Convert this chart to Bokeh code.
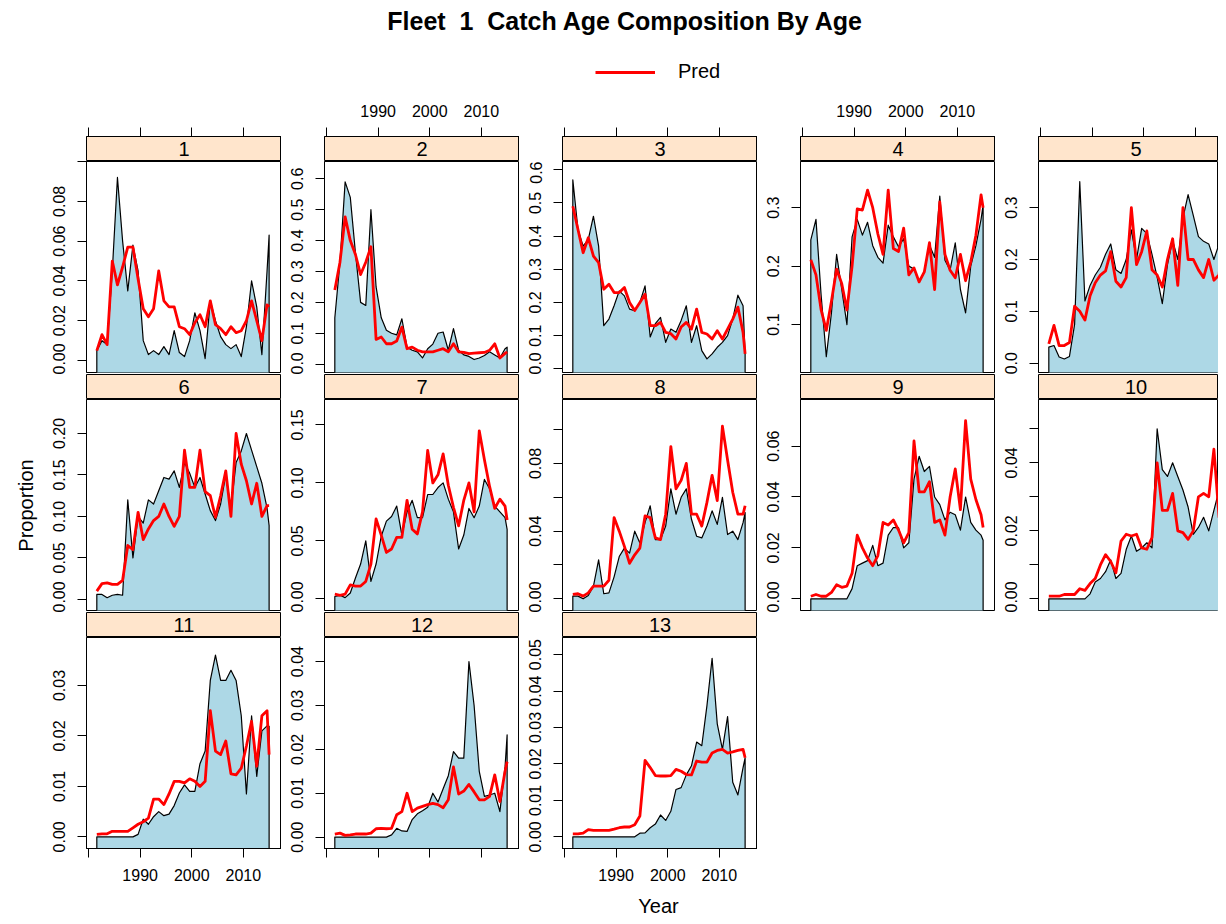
import math
from bokeh.plotting import figure
from bokeh.models import Range1d, LinearAxis, FixedTicker, Label, Legend, LegendItem, Spacer
from bokeh.layouts import column, row
from bokeh.embed import file_html
from bokeh.resources import INLINE

FONT = "Liberation Sans"

# ---------------- data ----------------
YEARS = [round(1981.6 + i, 1) for i in range(34)] + [2015.0]
AGES = list(range(1, 14))

OBS_1 = [0.005, 0.010, 0.008, 0.045, 0.092, 0.060, 0.035, 0.058, 0.045, 0.010, 0.003, 0.005, 0.003, 0.007, 0.003,
         0.015, 0.004, 0.002, 0.010, 0.024, 0.015, 0.001, 0.030, 0.020, 0.012, 0.008, 0.006, 0.008, 0.002, 0.017,
         0.040, 0.027, 0.003, 0.045, 0.063]
PRED_1 = [0.005, 0.013, 0.008, 0.050, 0.038, 0.047, 0.057, 0.057, 0.041, 0.026, 0.022, 0.026, 0.045, 0.030, 0.027,
          0.027, 0.017, 0.016, 0.013, 0.019, 0.023, 0.017, 0.030, 0.018, 0.016, 0.013, 0.017, 0.014, 0.015, 0.020,
          0.030, 0.020, 0.010, 0.028, 0.027]
OBS_2 = [0.15, 0.33, 0.59, 0.54, 0.36, 0.20, 0.19, 0.50, 0.25, 0.15, 0.11, 0.10, 0.095, 0.147, 0.055,
         0.045, 0.04, 0.02, 0.05, 0.065, 0.10, 0.104, 0.045, 0.115, 0.045, 0.03, 0.025, 0.015, 0.02, 0.028,
         0.04, 0.03, 0.02, 0.05, 0.055]
PRED_2 = [0.24, 0.33, 0.477, 0.40, 0.355, 0.29, 0.33, 0.38, 0.08, 0.088, 0.066, 0.066, 0.075, 0.12, 0.05,
          0.055, 0.045, 0.04, 0.04, 0.04, 0.045, 0.05, 0.04, 0.066, 0.04, 0.038, 0.034, 0.036, 0.037, 0.038,
          0.045, 0.066, 0.02, 0.035, 0.04]
OBS_3 = [0.57, 0.42, 0.37, 0.39, 0.46, 0.37, 0.13, 0.15, 0.19, 0.235, 0.22, 0.18, 0.175, 0.2, 0.25,
         0.096, 0.136, 0.155, 0.08, 0.12, 0.11, 0.146, 0.19, 0.08, 0.13, 0.055, 0.03, 0.045, 0.065, 0.08,
         0.1, 0.15, 0.222, 0.19, 0.045]
PRED_3 = [0.49, 0.42, 0.35, 0.395, 0.34, 0.32, 0.24, 0.255, 0.23, 0.23, 0.245, 0.2, 0.176, 0.2, 0.225,
          0.13, 0.13, 0.14, 0.11, 0.106, 0.09, 0.126, 0.14, 0.12, 0.18, 0.11, 0.105, 0.09, 0.115, 0.09,
          0.12, 0.15, 0.186, 0.11, 0.045]
OBS_4 = [0.245, 0.28, 0.15, 0.045, 0.12, 0.22, 0.16, 0.1, 0.25, 0.28, 0.253, 0.275, 0.235, 0.215, 0.205,
         0.27, 0.25, 0.233, 0.247, 0.2, 0.195, 0.173, 0.19, 0.236, 0.215, 0.32, 0.21, 0.193, 0.24, 0.16,
         0.12, 0.2, 0.235, 0.28, 0.305]
PRED_4 = [0.211, 0.185, 0.125, 0.09, 0.14, 0.195, 0.17, 0.125, 0.2, 0.298, 0.296, 0.33, 0.3, 0.255, 0.22,
          0.33, 0.23, 0.225, 0.265, 0.185, 0.197, 0.173, 0.19, 0.24, 0.16, 0.31, 0.22, 0.193, 0.18, 0.22,
          0.175, 0.207, 0.253, 0.322, 0.3]
OBS_5 = [0.031, 0.034, 0.012, 0.008, 0.013, 0.075, 0.35, 0.12, 0.15, 0.17, 0.185, 0.21, 0.23, 0.18, 0.173,
         0.2, 0.257, 0.2, 0.26, 0.25, 0.21, 0.166, 0.115, 0.19, 0.237, 0.2, 0.28, 0.325, 0.285, 0.244,
         0.235, 0.23, 0.2, 0.23, 0.19]
PRED_5 = [0.037, 0.073, 0.034, 0.034, 0.04, 0.11, 0.1, 0.083, 0.13, 0.155, 0.17, 0.178, 0.215, 0.158, 0.147,
          0.165, 0.3, 0.19, 0.215, 0.255, 0.18, 0.17, 0.147, 0.2, 0.24, 0.15, 0.3, 0.2, 0.2, 0.18,
          0.165, 0.2, 0.16, 0.17, 0.215]
OBS_6 = [0.006, 0.006, 0.002, 0.005, 0.006, 0.005, 0.12, 0.05, 0.1, 0.092, 0.12, 0.115, 0.131, 0.147, 0.145,
         0.155, 0.135, 0.165, 0.152, 0.135, 0.147, 0.127, 0.107, 0.095, 0.115, 0.15, 0.11, 0.165, 0.179, 0.2,
         0.18, 0.16, 0.14, 0.11, 0.089]
PRED_6 = [0.01, 0.019, 0.02, 0.018, 0.018, 0.023, 0.065, 0.06, 0.105, 0.072, 0.085, 0.095, 0.1, 0.115, 0.1,
          0.088, 0.1, 0.18, 0.135, 0.135, 0.18, 0.13, 0.125, 0.099, 0.125, 0.155, 0.1, 0.2, 0.163, 0.143,
          0.115, 0.14, 0.1, 0.113, 0.113]
OBS_7 = [0.002, 0.003, 0.001, 0.005, 0.018, 0.03, 0.05, 0.015, 0.03, 0.054, 0.067, 0.071, 0.08, 0.055, 0.075,
         0.085, 0.07, 0.07, 0.09, 0.09, 0.096, 0.1, 0.086, 0.075, 0.043, 0.055, 0.078, 0.07, 0.08, 0.103,
         0.095, 0.08, 0.075, 0.07, 0.06]
PRED_7 = [0.004, 0.003, 0.004, 0.012, 0.011, 0.011, 0.015, 0.03, 0.069, 0.055, 0.04, 0.043, 0.053, 0.053, 0.085,
          0.06, 0.056, 0.075, 0.128, 0.1, 0.107, 0.125, 0.098, 0.079, 0.063, 0.085, 0.1, 0.075, 0.145, 0.12,
          0.097, 0.078, 0.086, 0.08, 0.068]
OBS_8 = [0.0016, 0.0016, 0.0, 0.002, 0.0075, 0.023, 0.003, 0.0035, 0.013, 0.025, 0.03, 0.027, 0.04, 0.033, 0.045,
         0.055, 0.035, 0.035, 0.043, 0.065, 0.05, 0.06, 0.065, 0.047, 0.037, 0.036, 0.043, 0.052, 0.044, 0.06,
         0.038, 0.04, 0.035, 0.045, 0.051]
PRED_8 = [0.0026, 0.003, 0.0016, 0.0035, 0.0075, 0.0075, 0.0075, 0.011, 0.048, 0.04, 0.031, 0.021, 0.026, 0.03,
          0.049, 0.048, 0.036, 0.035, 0.05, 0.09, 0.065, 0.07, 0.08, 0.05, 0.05, 0.043, 0.057, 0.073, 0.058,
          0.102, 0.082, 0.063, 0.05, 0.05, 0.055]
OBS_9 = [0.0, 0.0, 0.0, 0.0, 0.0, 0.0, 0.0, 0.0, 0.004, 0.013, 0.014, 0.015, 0.021, 0.013, 0.014,
         0.025, 0.028, 0.028, 0.02, 0.022, 0.047, 0.056, 0.05, 0.052, 0.04, 0.037, 0.031, 0.034, 0.033, 0.027,
         0.04, 0.03, 0.027, 0.025, 0.023]
PRED_9 = [0.001, 0.0017, 0.001, 0.001, 0.0025, 0.0055, 0.0045, 0.005, 0.01, 0.025, 0.02, 0.016, 0.013, 0.017,
          0.03, 0.029, 0.031, 0.027, 0.022, 0.026, 0.062, 0.042, 0.042, 0.046, 0.03, 0.031, 0.025, 0.04, 0.051,
          0.035, 0.07, 0.047, 0.039, 0.033, 0.028]
OBS_10 = [0.0, 0.0, 0.0, 0.0, 0.0, 0.0, 0.0, 0.0, 0.0015, 0.005, 0.006, 0.008, 0.0115, 0.006, 0.0075,
          0.0145, 0.0185, 0.014, 0.015, 0.0165, 0.015, 0.05, 0.038, 0.036, 0.04, 0.036, 0.032, 0.027, 0.019,
          0.021, 0.024, 0.02, 0.026, 0.032, 0.04]
PRED_10 = [0.0008, 0.0008, 0.0008, 0.0013, 0.0013, 0.0013, 0.003, 0.0025, 0.0045, 0.006, 0.01, 0.013, 0.011,
           0.0077, 0.017, 0.019, 0.0185, 0.019, 0.015, 0.0146, 0.018, 0.04, 0.026, 0.026, 0.031, 0.02, 0.0195,
           0.0175, 0.02, 0.03, 0.031, 0.03, 0.044, 0.024, 0.023]
OBS_11 = [0.0, 0.0, 0.0, 0.0, 0.0, 0.0, 0.0, 0.0, 0.0005, 0.0035, 0.0025, 0.004, 0.005, 0.0042, 0.0045,
          0.0062, 0.0087, 0.0103, 0.009, 0.009, 0.0145, 0.017, 0.031, 0.036, 0.031, 0.031, 0.033, 0.031, 0.024,
          0.0085, 0.024, 0.012, 0.021, 0.022, 0.0219]
PRED_11 = [0.0005, 0.0006, 0.0006, 0.0011, 0.0011, 0.0011, 0.0011, 0.0018, 0.0025, 0.003, 0.0037, 0.0075,
           0.0075, 0.0064, 0.0085, 0.011, 0.011, 0.0107, 0.0115, 0.011, 0.01, 0.011, 0.025, 0.017, 0.0163,
           0.019, 0.0125, 0.0123, 0.0136, 0.018, 0.0229, 0.014, 0.024, 0.025, 0.0163]
OBS_12 = [0.0, 0.0, 0.0, 0.0, 0.0, 0.0, 0.0, 0.0, 0.0, 0.0, 0.0, 0.0005, 0.002, 0.0014, 0.0013,
          0.004, 0.0053, 0.006, 0.0068, 0.01, 0.008, 0.011, 0.014, 0.0195, 0.018, 0.018, 0.04, 0.03, 0.015,
          0.0093, 0.0096, 0.01, 0.0058, 0.016, 0.0233]
PRED_12 = [0.0007, 0.0009, 0.0004, 0.0005, 0.0007, 0.0007, 0.0007, 0.0009, 0.0019, 0.002, 0.0019, 0.002,
           0.0051, 0.0058, 0.01, 0.0058, 0.0066, 0.007, 0.0074, 0.0077, 0.0074, 0.0067, 0.0085, 0.016, 0.0098,
           0.0105, 0.012, 0.0103, 0.0085, 0.0085, 0.0093, 0.0142, 0.0081, 0.015, 0.0172]
OBS_13 = [0.0, 0.0, 0.0, 0.0, 0.0, 0.0, 0.0, 0.0, 0.0, 0.0, 0.0, 0.0, 0.0, 0.001, 0.0011,
          0.0025, 0.0035, 0.006, 0.0045, 0.007, 0.013, 0.0135, 0.017, 0.0195, 0.026, 0.025, 0.036, 0.049, 0.031,
          0.024, 0.033, 0.015, 0.0115, 0.019, 0.0217]
PRED_13 = [0.0008, 0.0008, 0.001, 0.002, 0.0018, 0.0018, 0.0018, 0.0018, 0.0021, 0.0025, 0.0027, 0.0027,
           0.0033, 0.0057, 0.021, 0.019, 0.0168, 0.0167, 0.0167, 0.0168, 0.0185, 0.018, 0.0171, 0.017, 0.0208,
           0.0205, 0.0205, 0.023, 0.0237, 0.024, 0.023, 0.0233, 0.0237, 0.024, 0.0217]

OBS = [OBS_1, OBS_2, OBS_3, OBS_4, OBS_5, OBS_6, OBS_7, OBS_8, OBS_9, OBS_10, OBS_11, OBS_12, OBS_13]
PRED = [PRED_1, PRED_2, PRED_3, PRED_4, PRED_5, PRED_6, PRED_7, PRED_8, PRED_9, PRED_10, PRED_11, PRED_12, PRED_13]

# axis scales (free y scales per panel)
Y_LIMITS = [(-0.006, 0.100), (-0.027, 0.656), (-0.011, 0.625), (0.018, 0.379), (-0.018, 0.389),
            (-0.0134, 0.241), (-0.0101, 0.172), (-0.0069, 0.1178), (-0.0046, 0.0783), (-0.0034, 0.0586),
            (-0.0023, 0.0395), (-0.0026, 0.0455), (-0.0032, 0.0547)]
Y_TICKS = [[0.0, 0.02, 0.04, 0.06, 0.08, 0.10],
           [0.0, 0.1, 0.2, 0.3, 0.4, 0.5, 0.6],
           [0.0, 0.1, 0.2, 0.3, 0.4, 0.5, 0.6],
           [0.1, 0.2, 0.3],
           [0.0, 0.1, 0.2, 0.3],
           [0.0, 0.05, 0.10, 0.15, 0.20],
           [0.0, 0.05, 0.10, 0.15],
           [0.0, 0.02, 0.04, 0.06, 0.08, 0.10],
           [0.0, 0.02, 0.04, 0.06],
           [0.0, 0.01, 0.02, 0.03, 0.04, 0.05],
           [0.0, 0.01, 0.02, 0.03],
           [0.0, 0.01, 0.02, 0.03, 0.04],
           [0.0, 0.01, 0.02, 0.03, 0.04, 0.05]]
Y_LABELS = [["0.00", "0.02", "0.04", "0.06", "0.08", ""],
            ["0.0", "0.1", "0.2", "0.3", "0.4", "0.5", "0.6"],
            ["0.0", "0.1", "0.2", "0.3", "0.4", "0.5", "0.6"],
            ["0.1", "0.2", "0.3"],
            ["0.0", "0.1", "0.2", "0.3"],
            ["0.00", "0.05", "0.10", "0.15", "0.20"],
            ["0.00", "0.05", "0.10", "0.15"],
            ["0.00", "", "0.04", "", "0.08", ""],
            ["0.00", "0.02", "0.04", "0.06"],
            ["0.00", "", "0.02", "", "0.04", ""],
            ["0.00", "0.01", "0.02", "0.03"],
            ["0.00", "0.01", "0.02", "0.03", "0.04"],
            ["0.00", "0.01", "0.02", "0.03", "0.04", "0.05"]]
X_TICKS = [1980, 1990, 2000, 2010]
X_LABELS = ["", "1990", "2000", "2010"]
X_LABELED = {2, 4, 11, 13}

TITLE = "Fleet \u00a01 \u00a0Catch Age Composition By Age"

# ---------------- styling / geometry ----------------
X_START, X_END = 1979.6, 2017.4
FRAME_W, FRAME_H, STRIP_H = 195, 211, 25
LEFT_B = 43
COL_W = LEFT_B + FRAME_W
TOTAL_W = 1218
YLAB_W = 86 - LEFT_B
LAST_COL_W = TOTAL_W - YLAB_W - 4 * COL_W
TOP_AXIS_H = 42
GAP = 2
BOTTOM_AXIS_H = 42
HEADER_H = 136 - TOP_AXIS_H
GRID_H = (TOP_AXIS_H + STRIP_H + FRAME_H + GAP) + (STRIP_H + FRAME_H + GAP) + (STRIP_H + FRAME_H + BOTTOM_AXIS_H)
TOTAL_H = 916
FOOTER_H = TOTAL_H - HEADER_H - GRID_H
STRIP_BG = "#FFE5CC"
FILL = "#ADD8E6"
TICK_FONT = "16px"
PRED_W = 2.8


def style_axis(ax, standoff):
    ax.axis_line_color = "black"
    ax.axis_line_width = 1
    ax.major_tick_line_color = "black"
    ax.major_tick_out = 9
    ax.major_tick_in = 0
    ax.minor_tick_line_color = None
    ax.major_label_text_font = FONT
    ax.major_label_text_font_size = TICK_FONT
    ax.major_label_text_color = "black"
    ax.major_label_standoff = standoff


def base_fig(width, height, xr, yr, **kw):
    f = figure(width=width, height=height, x_range=xr, y_range=yr,
               toolbar_location=None, output_backend="svg",
               min_border_left=kw.pop("mbl", 0), min_border_right=0,
               min_border_top=kw.pop("mbt", 0), min_border_bottom=kw.pop("mbb", 0),
               **kw)
    f.grid.visible = False
    return f


def make_strip(k, r, c, xr, width):
    top = TOP_AXIS_H if r == 0 else 0
    s = base_fig(width, STRIP_H + top, xr, Range1d(0, 1), mbl=LEFT_B, mbt=top,
                 x_axis_location=None, y_axis_location=None,
                 background_fill_color=STRIP_BG, outline_line_color="black",
                 outline_line_width=1)
    if r == 0:
        ax = LinearAxis(ticker=FixedTicker(ticks=X_TICKS))
        labs = X_LABELS if (k + 1) in X_LABELED else [""] * len(X_TICKS)
        ax.major_label_overrides = {t: l for t, l in zip(X_TICKS, labs)}
        style_axis(ax, 11)
        s.add_layout(ax, "above")
    s.add_layout(Label(x=(X_START + X_END) / 2, y=0.5, text=str(AGES[k]),
                       text_align="center", text_baseline="middle",
                       text_font=FONT, text_font_size="20px", text_color="black"))
    return s


def make_panel(k, r, c, xr, width):
    lo, hi = Y_LIMITS[k]
    bottom = BOTTOM_AXIS_H if r == 2 else GAP
    p = base_fig(width, FRAME_H + bottom, xr, Range1d(lo, hi), mbl=LEFT_B, mbb=bottom,
                 x_axis_location="below" if r == 2 else None, y_axis_location="left",
                 background_fill_color="white", outline_line_color="black",
                 outline_line_width=1)
    yax = p.yaxis[0]
    yax.ticker = FixedTicker(ticks=Y_TICKS[k])
    yax.major_label_overrides = {t: l for t, l in zip(Y_TICKS[k], Y_LABELS[k])}
    yax.major_label_orientation = "vertical"
    style_axis(yax, 12)
    if r == 2:
        xax = p.xaxis[0]
        xax.ticker = FixedTicker(ticks=X_TICKS)
        labs = X_LABELS if (k + 1) in X_LABELED else [""] * len(X_TICKS)
        xax.major_label_overrides = {t: l for t, l in zip(X_TICKS, labs)}
        style_axis(xax, 11)

    obs = OBS[k]
    base = lo - 1.0
    xs = [YEARS[0]] + YEARS + [YEARS[-1]]
    ys = [base] + obs + [base]
    p.patch(xs, ys, fill_color=FILL, line_color="black", line_width=1.2, line_join="round")
    p.line(YEARS, PRED[k], line_color="red", line_width=PRED_W, line_join="round")
    return p


columns = []
for c in range(5):
    width = COL_W if c < 4 else LAST_COL_W
    frame_w = width - LEFT_B
    x_end = X_START + (X_END - X_START) * frame_w / FRAME_W
    xr = Range1d(X_START, x_end)
    items = []
    used_h = 0
    for r in range(3):
        k = r * 5 + c
        if k >= len(AGES):
            continue
        items.append(make_strip(k, r, c, xr, width))
        items.append(make_panel(k, r, c, xr, width))
        used_h += (TOP_AXIS_H if r == 0 else 0) + STRIP_H + FRAME_H + (BOTTOM_AXIS_H if r == 2 else GAP)
    if used_h < GRID_H:
        items.append(Spacer(width=width, height=GRID_H - used_h))
    columns.append(column(*items, spacing=0))

# header: title + legend (pixel coordinates of the picture)
hdr = base_fig(TOTAL_W, HEADER_H, Range1d(0, TOTAL_W), Range1d(HEADER_H, 0),
               x_axis_location=None, y_axis_location=None, outline_line_color=None)
hdr.add_layout(Label(x=625, y=20, text=TITLE, text_align="center", text_baseline="middle",
                     text_font=FONT, text_font_size="25px", text_font_style="bold", text_color="black"))
nan = float("nan")
leg_r = hdr.line(x=[nan, nan], y=[nan, nan], line_color="red", line_width=PRED_W)
legend = Legend(items=[LegendItem(label="Pred", renderers=[leg_r])], location=(595, HEADER_H - 73 - 10),
                glyph_width=60, glyph_height=20, label_height=20, label_standoff=23,
                padding=0, margin=0, spacing=0, border_line_color=None, background_fill_alpha=0,
                label_text_font=FONT, label_text_font_size="20px", label_text_color="black")
hdr.add_layout(legend, "center")

# left: y label
ylab = base_fig(YLAB_W, GRID_H, Range1d(0, YLAB_W), Range1d(HEADER_H + GRID_H, HEADER_H),
                x_axis_location=None, y_axis_location=None, outline_line_color=None)
ylab.add_layout(Label(x=25, y=505, text="Proportion", angle=math.pi / 2, angle_units="rad",
                      text_align="center", text_baseline="middle",
                      text_font=FONT, text_font_size="20px", text_color="black"))

# footer: x label
ftr = base_fig(TOTAL_W, FOOTER_H, Range1d(0, TOTAL_W), Range1d(TOTAL_H, HEADER_H + GRID_H),
               x_axis_location=None, y_axis_location=None, outline_line_color=None)
ftr.add_layout(Label(x=658, y=905, text="Year", text_align="center", text_baseline="middle",
                     text_font=FONT, text_font_size="20px", text_color="black"))

layout = column(hdr, row(ylab, *columns, spacing=0), ftr, spacing=0)

open("out.html", "w").write(file_html(layout, INLINE))
